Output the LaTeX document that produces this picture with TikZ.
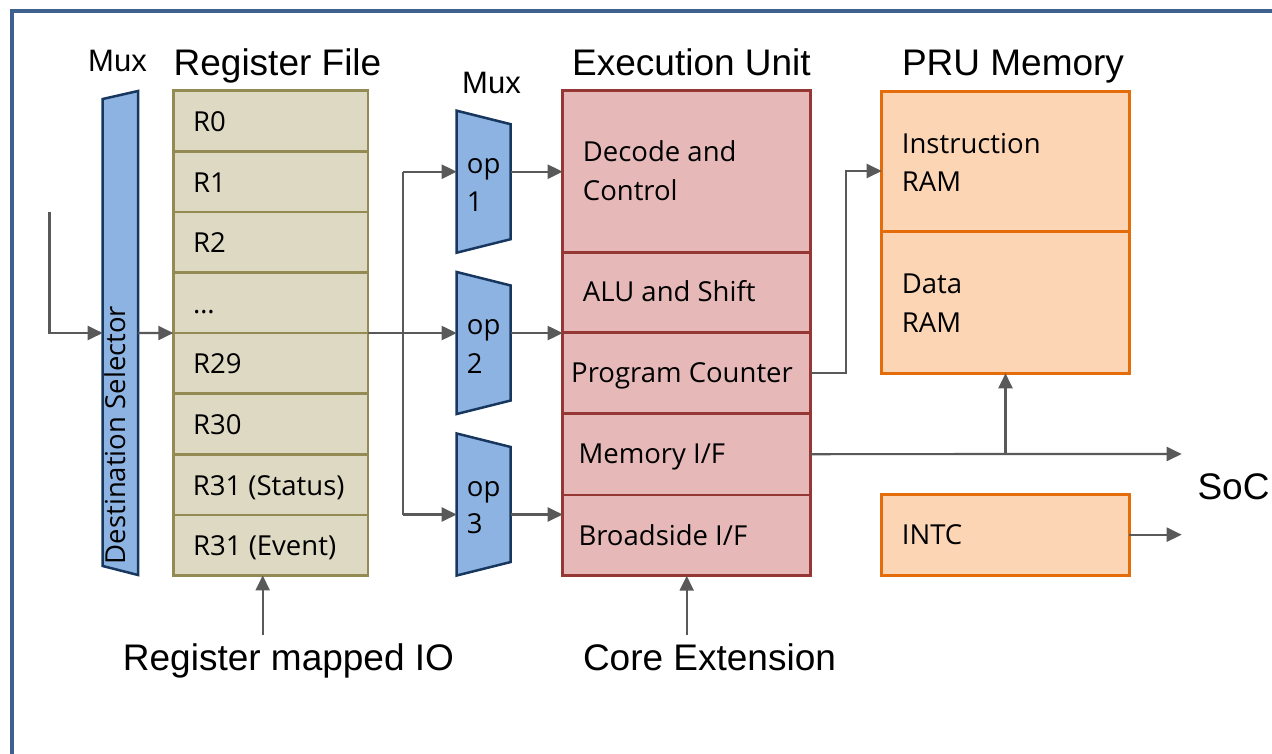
\documentclass[tikz,border=0pt]{standalone}
\usepackage{fontspec}
\setmainfont{Liberation Sans}
\newfontfamily\boxfont{Open Sans}
\usetikzlibrary{arrows.meta,calc}

\definecolor{framecol}{RGB}{62,97,144}
\definecolor{regfill}{RGB}{221,217,195}
\definecolor{regdraw}{RGB}{148,138,84}
\definecolor{muxfill}{RGB}{141,179,226}
\definecolor{muxdraw}{RGB}{23,55,94}
\definecolor{eufill}{RGB}{230,185,184}
\definecolor{eudraw}{RGB}{149,55,53}
\definecolor{memfill}{RGB}{252,213,181}
\definecolor{memdraw}{RGB}{228,108,10}
\definecolor{arrcol}{RGB}{89,89,89}

\begin{document}
\begin{tikzpicture}[x=1pt,y=-1pt,
  heading/.style={font=\fontsize{37}{44}\selectfont, anchor=base, inner sep=0pt},
  muxhead/.style={font=\fontsize{31}{37}\selectfont, anchor=base, inner sep=0pt},
  lbl/.style={font=\boxfont\fontsize{27.5}{38}\selectfont, anchor=base west, inner sep=0pt},
  regcell/.style={draw=regdraw, fill=regfill, line width=2.5pt, anchor=north west,
    minimum width=194.7pt, minimum height=60.6pt, inner sep=0pt, outer sep=0pt},
  eucell/.style={draw=eudraw, fill=eufill, line width=2.5pt, anchor=north west,
    minimum width=248pt, inner sep=0pt, outer sep=0pt},
  memcell/.style={draw=memdraw, fill=memfill, line width=3pt, anchor=north west,
    minimum width=247.6pt, inner sep=0pt, outer sep=0pt},
  muxbox/.style={minimum width=54pt, minimum height=142pt, inner sep=0pt, outer sep=0pt},
  muxshape/.style={draw=muxdraw, fill=muxfill, line width=2.5pt, line join=miter},
  wire/.style={draw=arrcol, line width=2.2pt},
  arr/.style={wire, -{Triangle[length=15pt,width=14pt]}},
]
\path[use as bounding box] (0,0) rectangle (1272,753);

% outer frame, running off the right and bottom edges
\begin{scope}
  \clip (0,0) rectangle (1272,753);
  \draw[framecol, line width=4pt] (12,11) rectangle (1320,800);
\end{scope}

% ---------- headings ----------
\node[muxhead] (hmux1) at (117.5,71) {Mux};
\node[heading] (hrf) at (277.5,75) {Register File};
\node[muxhead] (hmux2) at (491.5,93) {Mux};
\node[heading] (heu) at (691.5,75) {Execution Unit};
\node[heading] (hmem) at (1013,75) {PRU Memory};

% ---------- destination selector mux ----------
\node[inner sep=0pt, outer sep=0pt, minimum width=35.3pt, minimum height=484pt] (dsel) at (120.35,333) {};
\draw[muxshape] ($(dsel.north west)+(0,8)$) -- (dsel.north east) -- (dsel.south east)
  -- ($(dsel.south west)+(0,-9)$) -- cycle;
\node[font=\boxfont\fontsize{27.5}{38}\selectfont, rotate=90, inner sep=0pt,
  text height=0.72em, text depth=0pt] (dseltxt) at (121.5,435) {Destination Selector};

% ---------- register file ----------
\node[inner sep=0pt, outer sep=0pt, minimum width=194.7pt, minimum height=484.7pt,
  anchor=north west] (rf) at (173.3,90.7) {};
\foreach \i in {0,...,7}{
  \node[regcell] (r\i) at (173.3,{90.7+60.6*\i}) {};
}
\node[lbl] (lr0) at (193,131.5) {R0};
\node[lbl] (lr1) at (193,192.1) {R1};
\node[lbl] (lr2) at (193,252.7) {R2};
\node[lbl] (lr3) at (193,313.3) {…};
\node[lbl] (lr4) at (193,373.9) {R29};
\node[lbl] (lr5) at (193,434.5) {R30};
\node[lbl] (lr6) at (192.7,495.1) {R31 (Status)};
\node[lbl] (lr7) at (193,555.4) {R31 (Event)};

% ---------- operand muxes ----------
\foreach \k/\cy in {1/181.7, 2/343, 3/504.5}{
  \node[muxbox] (op\k) at (483.7,\cy) {};
  \draw[muxshape] (op\k.north west) -- ($(op\k.north east)+(0,13.5)$)
    -- ($(op\k.south east)+(0,-13.5)$) -- (op\k.south west) -- cycle;
}
\node[lbl] (lop1a) at (466.7,173) {op};
\node[lbl] (lop1b) at (466.7,211.7) {1};
\node[lbl] (lop2a) at (466.7,334.6) {op};
\node[lbl] (lop2b) at (466.7,373) {2};
\node[lbl] (lop3a) at (466.7,496.3) {op};
\node[lbl] (lop3b) at (466.7,533.8) {3};

% ---------- execution unit ----------
\node[eucell, minimum height=161.6pt] (eudec) at (562.7,90.7) {};
\node[eucell, minimum height=80.4pt] (eualu) at (562.7,252.3) {};
\node[eucell, minimum height=80.6pt] (eupc) at (562.7,332.7) {};
\node[eucell, minimum height=81.7pt] (eumem) at (562.7,413.3) {};
\node[eucell, minimum height=80.7pt] (eubs) at (562.7,495) {};
\node[lbl] (ldec1) at (582.7,161.7) {Decode and};
\node[lbl] (ldec2) at (582.7,200) {Control};
\node[lbl] (lalu) at (582.7,301.7) {ALU and Shift};
\node[lbl] (lpc) at (571,382) {Program Counter};
\node[lbl] (lmem) at (578.3,463.3) {Memory I/F};
\node[lbl] (lbs) at (578.3,545) {Broadside I/F};

% ---------- PRU memory and INTC ----------
\node[memcell, minimum height=140.7pt] (iram) at (881.7,91) {};
\node[memcell, minimum height=141.6pt] (dram) at (881.7,231.7) {};
\node[memcell, minimum height=80.7pt] (intc) at (881.7,494.3) {};
\node[lbl] (liram1) at (901.7,153.3) {Instruction};
\node[lbl] (liram2) at (901.7,191) {RAM};
\node[lbl] (ldram1) at (901.7,293.3) {Data};
\node[lbl] (ldram2) at (901.7,332.3) {RAM};
\node[lbl] (lintc) at (901.7,544.3) {INTC};

% ---------- bottom and side labels ----------
\node[heading] (trmio) at (288.5,670) {Register mapped IO};
\node[heading] (tcext) at (709.5,670) {Core Extension};
\node[heading] (tsoc) at (1233.5,499) {SoC};

% ---------- connectors ----------
\coordinate (din) at (49.5,211.7);
\draw[arr] (din) |- (dsel.west);
\draw[arr] (dsel.east) -- (rf.west);

\coordinate (bus1) at (403.3,171.7);
\coordinate (bus3) at (403.3,514.5);
\draw[arr] (rf.east) -- (op2.west |- rf.east);
\draw[wire] (bus1) -- (bus3);
\draw[arr] (bus1) -- (op1.west |- bus1);
\draw[arr] (bus3) -- (op3.west |- bus3);

\draw[arr] (op1.east |- bus1) -- (eudec.west |- bus1);
\draw[arr] (op2.east |- rf.east) -- (eualu.west |- rf.east);
\draw[arr] (op3.east |- bus3) -- (eubs.west |- bus3);

\coordinate (pcbend) at (845.7,171);
\draw[arr] (eupc.east) -| (pcbend) -- (iram.west |- pcbend);

\coordinate (socbus) at (1181.7,454);
\coordinate (tap) at (1005.5,454);
\draw[arr] (eumem.east) -- (socbus);
\draw[arr] (tap) -- (dram.south);

\coordinate (intcout) at (1181.7,535);
\draw[arr] (intc.east) -- (intcout |- intc.east);

\coordinate (rmio) at (262.7,635);
\draw[arr] (rmio) -- (rmio |- rf.south);
\coordinate (cext) at (686.7,635);
\draw[arr] (cext) -- (eubs.south);
\end{tikzpicture}
\end{document}
